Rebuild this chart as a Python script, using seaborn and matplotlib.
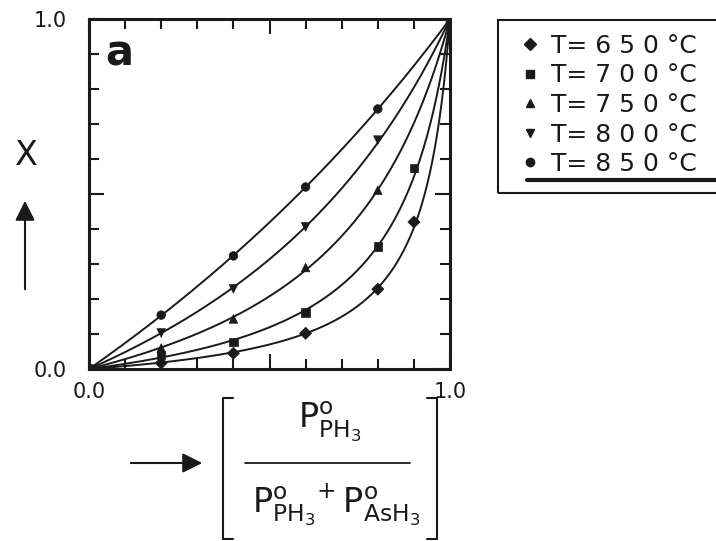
import numpy as np
import pandas as pd
import matplotlib
matplotlib.use("Agg")
import matplotlib.pyplot as plt
from matplotlib.lines import Line2D
from matplotlib.patches import Rectangle, FancyArrowPatch
from matplotlib.ticker import MultipleLocator, FuncFormatter
import seaborn as sns

# data: gas-phase fraction vs. solid composition X
temps = ["650", "700", "750", "800", "850"]
x_650 = [0.0, 0.2, 0.4, 0.6, 0.8, 0.9, 1.0]
X_650 = [0.0, 0.017, 0.045, 0.102, 0.228, 0.42, 1.0]
x_700 = [0.0, 0.2, 0.4, 0.6, 0.8, 0.9, 1.0]
X_700 = [0.0, 0.04, 0.077, 0.162, 0.35, 0.574, 1.0]
x_750 = [0.0, 0.2, 0.4, 0.6, 0.8, 1.0]
X_750 = [0.0, 0.06, 0.143, 0.29, 0.511, 1.0]
x_800 = [0.0, 0.2, 0.4, 0.6, 0.8, 1.0]
X_800 = [0.0, 0.103, 0.229, 0.406, 0.654, 1.0]
x_850 = [0.0, 0.2, 0.4, 0.6, 0.8, 1.0]
X_850 = [0.0, 0.154, 0.323, 0.52, 0.743, 1.0]

xs = [x_650, x_700, x_750, x_800, x_850]
Xs = [X_650, X_700, X_750, X_800, X_850]
markers = {"650": "D", "700": "s", "750": "^", "800": "v", "850": "o"}

pts = pd.concat([pd.DataFrame({"T": t, "x": x, "X": X}) for t, x, X in zip(temps, xs, Xs)],
                ignore_index=True)

# fitted distribution curves X = k x / (1 + (k-1) x), k from least squares
grid = np.linspace(0, 1, 300)
fits = []
for t, x, X in zip(temps, xs, Xs):
    x = np.array(x); X = np.array(X)
    a = X * (1 - x)
    b = x * (1 - X)
    k = (a * b).sum() / (b * b).sum()
    fits.append(pd.DataFrame({"T": t, "x": grid, "X": k * grid / (1 + (k - 1) * grid)}))
fit_df = pd.concat(fits, ignore_index=True)

sns.set_style("white")
plt.rcParams["font.family"] = ["DejaVu Sans"]
plt.rcParams["mathtext.default"] = "regular"
ink = "#1a1a1a"

fig = plt.figure(figsize=(7.16, 5.41), dpi=100)
ax = fig.add_axes([89 / 716, 1 - 369 / 541, 361 / 716, 350 / 541])

sns.lineplot(data=fit_df, x="x", y="X", units="T", estimator=None, color=ink,
             lw=1.4, ax=ax, legend=False)
sns.scatterplot(data=pts, x="x", y="X", style="T", markers=markers, color=ink,
                s=38, edgecolor=ink, ax=ax, legend=False, zorder=3)

ax.set_xlim(0, 1)
ax.set_ylim(0, 1)
ax.set_xlabel("")
ax.set_ylabel("")
for s in ax.spines.values():
    s.set_linewidth(2.2)
    s.set_color(ink)
    s.set_visible(True)

ax.xaxis.set_major_locator(MultipleLocator(0.5))
ax.yaxis.set_major_locator(MultipleLocator(0.5))
ax.xaxis.set_minor_locator(MultipleLocator(0.1))
ax.yaxis.set_minor_locator(MultipleLocator(0.1))
fmt = FuncFormatter(lambda v, p: f"{v:.1f}" if v in (0.0, 1.0) else "")
ax.xaxis.set_major_formatter(fmt)
ax.yaxis.set_major_formatter(fmt)
ax.tick_params(which="both", direction="in", top=True, right=True, bottom=True, left=True,
               color=ink, width=1.5, labelsize=15, labelcolor=ink)
ax.tick_params(which="major", length=11)
ax.tick_params(which="minor", length=7)
ax.tick_params(axis="y", pad=16)
ax.tick_params(axis="x", pad=9)

ax.text(0.045, 0.96, "a", transform=ax.transAxes, fontsize=30, fontweight="bold",
        va="top", ha="left", color=ink)

# y label with arrow
fig.text(26 / 716, 1 - 155 / 541, "X", fontsize=24, ha="center", va="center", color=ink)
fig.add_artist(FancyArrowPatch((25 / 716, 1 - 292 / 541), (25 / 716, 1 - 198 / 541),
               transform=fig.transFigure, arrowstyle="-|>,head_length=6,head_width=3",
               color=ink, lw=1.5, mutation_scale=2))

# x label: arrow + bracketed fraction
fig.add_artist(FancyArrowPatch((128 / 716, 1 - 463 / 541), (205 / 716, 1 - 463 / 541),
               transform=fig.transFigure, arrowstyle="-|>,head_length=6,head_width=3",
               color=ink, lw=1.5, mutation_scale=2))
fig.text(330 / 716, 1 - 422 / 541, r"$P^{o}_{PH_3}$", fontsize=24,
         ha="center", va="center", color=ink)
fig.text(336 / 716, 1 - 506 / 541, r"$P^{o}_{PH_3}{}^{+}\,P^{o}_{AsH_3}$", fontsize=24,
         ha="center", va="center", color=ink)
fig.add_artist(Line2D([245 / 716, 410 / 716], [1 - 463 / 541, 1 - 463 / 541],
                      transform=fig.transFigure, color=ink, lw=1.3))
for xb, dx in ((223, 10), (437, -10)):
    fig.add_artist(Line2D([(xb + dx) / 716, xb / 716, xb / 716, (xb + dx) / 716],
                          [1 - 398 / 541, 1 - 398 / 541, 1 - 539 / 541, 1 - 539 / 541],
                          transform=fig.transFigure, color=ink, lw=1.5))

# legend
handles = [Line2D([], [], marker=markers[t], color=ink, ls="none", markersize=6) for t in temps]
labels = [f"T= {' '.join(t)} °C" for t in temps]
leg = fig.legend(handles, labels, loc="upper left", bbox_to_anchor=(520 / 716, 1 - 34 / 541),
                 frameon=False, fontsize=18, handlelength=0.8, handletextpad=0.45,
                 labelspacing=0.22, borderpad=0.0, borderaxespad=0.0)
for txt in leg.get_texts():
    txt.set_color(ink)
fig.add_artist(Rectangle((498 / 716, 1 - 193 / 541), 0.4, 173 / 541, transform=fig.transFigure,
                         fill=False, edgecolor=ink, lw=1.5))
fig.add_artist(Line2D([527 / 716, 1.0], [1 - 180 / 541, 1 - 180 / 541],
                      transform=fig.transFigure, color=ink, lw=3))

fig.savefig("out.png", dpi=100, facecolor="white")
